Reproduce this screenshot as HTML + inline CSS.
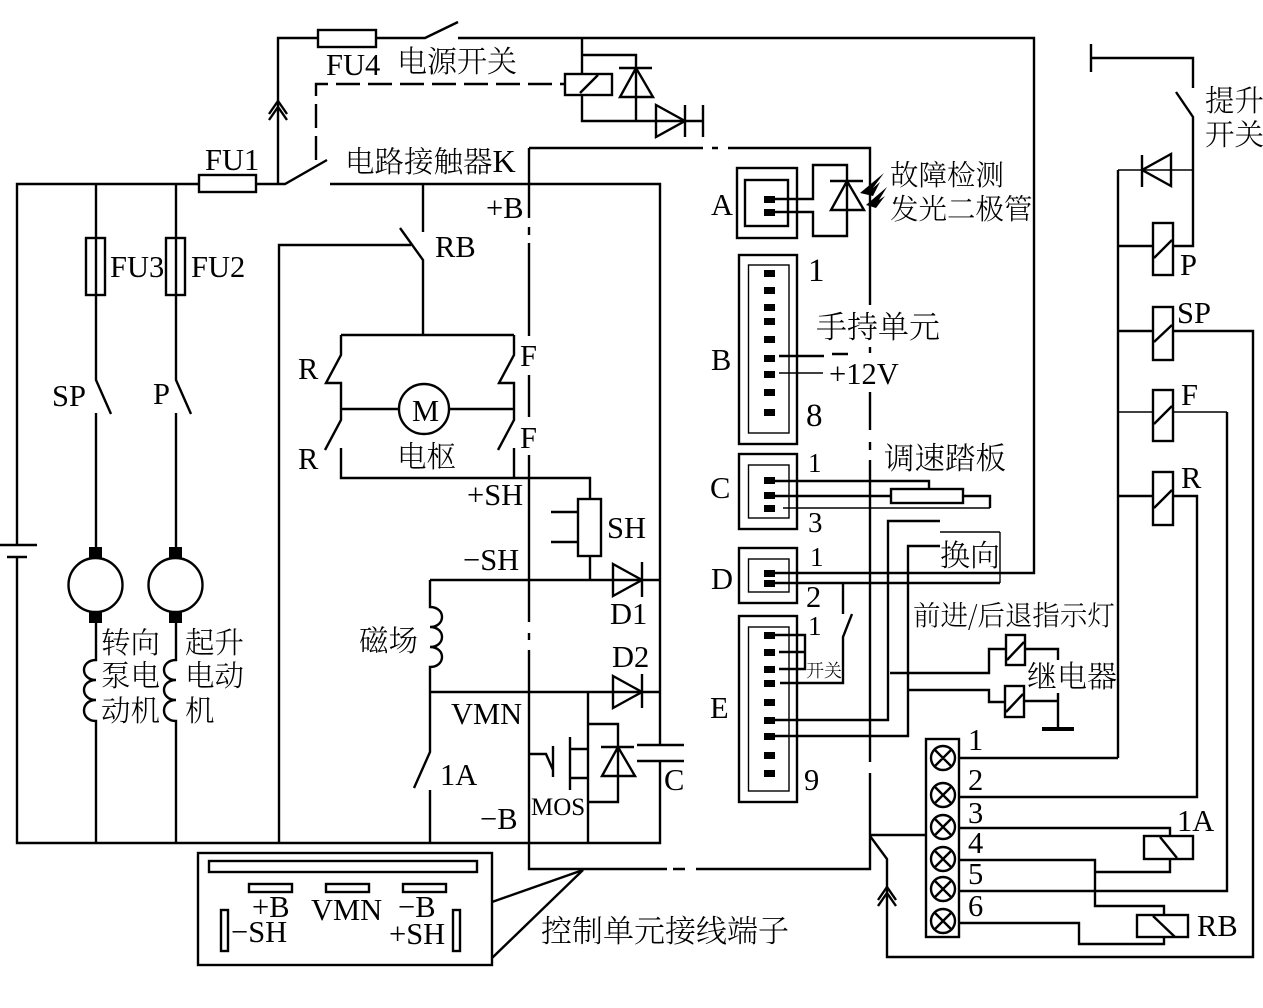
<!DOCTYPE html>
<html><head><meta charset="utf-8">
<style>
html,body{margin:0;padding:0;background:#fff;width:1263px;height:1008px;overflow:hidden}
svg{display:block}
.w{fill:none;stroke:#000;stroke-width:2.4}
.t{fill:none;stroke:#000;stroke-width:1.4}
text{font-family:"Liberation Serif","Noto Serif CJK SC",serif;font-size:30.5px;fill:#000}
.c{font-family:"Noto Serif CJK SC","Liberation Serif",serif;font-weight:300;font-size:29.5px}
</style></head><body>
<svg width="1263" height="1008" viewBox="0 0 1263 1008" xmlns="http://www.w3.org/2000/svg">
<rect width="1263" height="1008" fill="#fff"/>
<g class="w">
<!-- left main -->
<path d="M17 545V184H199M256 184H285L327 160M330 184H660V745M660 761V843H17V557"/>
<path d="M0 545H37M7 557H27"/>
<rect x="199" y="175" width="57" height="17"/>
<path d="M96 184V380L111 414M96 413V547M176 184V380L191 414M176 413V547"/>
<rect x="86" y="238" width="19" height="57"/><rect x="166" y="238" width="19" height="57"/>
<circle cx="95.500" cy="585" r="27"/><circle cx="175.500" cy="585" r="27"/>
<path d="M96 623V660C80 660 80 680 96 680C80 680 80 700 96 700C80 700 80 721 96 721V843"/>
<path d="M176 623V660C160 660 160 680 176 680C160 680 160 700 176 700C160 700 160 721 176 721V843"/>
<!-- top feed -->
<path d="M278 184V38H318M376 38H425L458 22M458 38H1034V573H775"/>
<rect x="318" y="30" width="58" height="17"/>
<path d="M269 114L278 101L287 114M269 120L278 107L287 120" />
<path d="M316 160V84H565" stroke-dasharray="24 8"/>
<!-- relay top -->
<rect x="565" y="74" width="47" height="21"/>
<path d="M580 93L598 75M582 38V74M582 95V121H685M582 55H636V121M620 97H653L636 68ZM619 68H652"/>
<path d="M656 105V137L685 121ZM685 105V137M703 105V137M685 121H703"/>
<!-- box -->
<path d="M529 148V218M529 227V235M529 243V336M529 375V417M529 455V622M529 633V640M529 650V869H667M673 869H685M696 869H870V773M870 762V460M870 450V442M870 430V392M870 353V347M870 305V148H728M718 148H712M703 148H529"/>
<!-- RB & armature -->
<path d="M423 184V232M400 228L423 260V335M279 843V245H411"/>
<path d="M341 335H514M341 335V355L326 383H341V420L325 450M341 448V478H590V499M514 335V355L499 383H514V420L498 450M514 448V478"/>
<circle cx="424" cy="409" r="25"/>
<path d="M341 409H399M449 409H514"/>
<rect x="578" y="499" width="23" height="57"/>
<path d="M551 512H578M551 542H578M590 556V580"/>
<path d="M430 580H660M430 692H660M430 580V607C446 607 446 627 430 627C446 627 446 647 430 647C446 647 446 667 430 667V752L414 788M430 790V843"/>
<path d="M613 564V596L642 580ZM642 562V597M613 676V708L642 692ZM642 674V708"/>
<path d="M637 745H684M637 761H684"/>
<path d="M588 692V843M588 724H618V802H588M602 776H635L618 747ZM601 747H634"/>
<path d="M529 754H546L553 770M553 746V777M570 737V790M570 749H588V749M570 778H588"/>
<!-- bottom box -->
<rect x="198" y="853" width="294" height="112"/>
<rect x="209" y="861" width="268" height="11"/>
<rect x="249" y="884" width="43" height="8"/><rect x="326" y="884" width="43" height="8"/><rect x="403" y="884" width="43" height="8"/>
<rect x="221" y="910" width="7" height="41"/><rect x="453" y="910" width="7" height="41"/>
<path d="M492 902L583 870L492 958"/>
<!-- connectors -->
<rect x="737" y="168" width="60" height="70"/><rect x="745" y="180" width="43" height="46"/>
<path d="M775 199H813V165H847V236H813V212H775M831 210H864L847 181ZM830 181H863"/>
<rect x="739" y="255" width="58" height="189"/><rect x="748.500" y="265" width="40.500" height="168" class="t"/>
<rect x="739" y="454" width="58" height="75"/><rect x="748.500" y="465" width="40.500" height="53" class="t"/>
<rect x="739" y="548" width="58" height="55"/><rect x="748.500" y="559" width="40.500" height="33" class="t"/>
<rect x="739" y="616" width="58" height="186"/><rect x="748.500" y="627" width="40.500" height="164" class="t"/>
<path d="M779 356H824M832 354H848"/>
<path d="M775 481H929V489M775 496H891M963 496H990V508"/>
<rect x="891" y="489" width="72" height="14"/>
<path d="M775 583H1000M843 583V614M852 614L843 637V683H780M775 635H805V669H779M779 652H805"/>
<path d="M775 720H888V521H940M775 736H908V546H940"/>
<path d="M890 673H989V649H1006M908 690H989V702H1005"/>
<rect x="1006" y="635" width="19" height="30"/><rect x="1005" y="686" width="19" height="31"/>
<path d="M1007 660L1024 642M1006 712L1023 694M1025 649H1058V660M1024 701H1058M1058 693V729"/>
<!-- right -->
<path d="M1091 44V72M1091 58H1193V88M1176 92L1193 117V246H1173M1118 758V170M1118 246H1153M1118 331H1153M1118 496H1153M1173 331H1253V957H887V859L870 836M870 835H926"/>
<path d="M1173 496H1197V797H958M1227 412V891H958"/>
<rect x="1153" y="223" width="20" height="52"/><rect x="1153" y="307" width="20" height="53"/><rect x="1153" y="390" width="20" height="51"/><rect x="1153" y="472" width="20" height="53"/>
<path d="M1154 258L1172 240M1154 342L1172 325M1154 424L1172 406M1154 508L1172 490"/>
<path d="M1171 154V186L1142 170ZM1142 155V187"/>
<rect x="926" y="739" width="33" height="198"/>
<path d="M958 758H1118M958 828H1170V836M1170 859V872H1095M958 860H1095V906H1164V915M1164 937V944H1079V923H958"/>
<rect x="1144" y="836" width="49" height="23"/>
<rect x="1137" y="915" width="51" height="22"/>
<path d="M1160 837L1177 858M1153 916L1175 937"/>
<path d="M878 906L887 893L896 906M878 900L887 887L896 900"/>
<g id="x">
<circle cx="943" cy="758" r="12"/><circle cx="943" cy="795" r="12"/><circle cx="943" cy="827" r="12"/><circle cx="943" cy="859" r="12"/><circle cx="943" cy="889" r="12"/><circle cx="943" cy="921" r="12"/>
<path d="M935 750L951 766M951 750L935 766M935 787L951 803M951 787L935 803M935 819L951 835M951 819L935 835M935 851L951 867M951 851L935 867M935 881L951 897M951 881L935 897M935 913L951 929M951 913L935 929"/>
</g>
</g>
<g class="t">
<path d="M783 508H990M779 373H823M1000 532V583M940 532H1000M1118 170H1193M1118 412H1153M1173 412H1227"/>
</g>
<!-- pins -->
<g fill="#000">
<rect x="89" y="547" width="13" height="12"/><rect x="89" y="611" width="13" height="12"/>
<rect x="169" y="547" width="13" height="12"/><rect x="169" y="611" width="13" height="12"/>
<path d="M764 196h11v7h-11zM764 209h11v7h-11z"/>
<path d="M764 270h11v7h-11zM764 287h11v7h-11zM764 304h11v7h-11zM764 318h11v7h-11zM764 336h11v7h-11zM764 355h11v7h-11zM764 371h11v7h-11zM764 389h11v7h-11zM764 409h11v7h-11z"/>
<path d="M764 477h11v7h-11zM764 492h11v7h-11zM764 505h11v7h-11zM764 570h11v7h-11zM764 580h11v7h-11z"/>
<path d="M764 632h11v7h-11zM764 649h11v7h-11zM764 666h11v7h-11zM764 680h11v7h-11zM764 699h11v7h-11zM764 717h11v7h-11zM764 733h11v7h-11zM764 752h11v7h-11zM764 770h11v7h-11z"/>
<rect x="1042" y="727" width="32" height="4"/>
<path d="M860 193L884 173L873 188L880 182L873 196ZM866 205L887 187L879 200L885 196L876 208Z"/>
</g>
<!-- text -->
<text x="205" y="170">FU1</text>
<text x="326" y="75">FU4</text>
<text class="c" x="397" y="72" style="font-size:30px">电源开关</text>
<text class="c" x="345" y="172">电路接触器<tspan style="font-family:'Liberation Serif';font-size:32px">K</tspan></text>
<text x="486" y="218">+B</text>
<text x="435" y="257">RB</text>
<text class="c" x="890" y="185" style="font-size:28.500px">故障检测</text>
<text class="c" x="890" y="219" style="font-size:28.500px">发光二极管</text>
<text x="711" y="215">A</text>
<text x="711" y="370">B</text>
<text x="808" y="281" style="font-size:33px">1</text>
<text x="806" y="426" style="font-size:33px">8</text>
<text class="c" x="816" y="338" style="font-size:31px">手持单元</text>
<text x="829" y="384">+12V</text>
<text x="710" y="498">C</text>
<text x="808" y="472" style="font-size:27px">1</text>
<text x="808" y="532" style="font-size:29px">3</text>
<text class="c" x="884" y="469" style="font-size:30.500px">调速踏板</text>
<text class="c" x="940" y="566" style="font-size:30px">换向</text>
<text x="711" y="589">D</text>
<text x="810" y="566" style="font-size:27px">1</text>
<text x="806" y="607">2</text>
<text x="710" y="718">E</text>
<text x="808" y="635" style="font-size:27px">1</text>
<text x="804" y="790">9</text>
<text class="c" x="806" y="677" style="font-size:18px">开关</text>
<text class="c" x="913" y="625" style="font-size:27.500px">前进/后退指示灯</text>
<text class="c" x="1027" y="687" style="font-size:30px">继电器</text>
<text x="968" y="750">1</text><text x="968" y="790">2</text><text x="968" y="823">3</text><text x="968" y="853">4</text><text x="968" y="884">5</text><text x="968" y="916">6</text>
<text x="1177" y="831">1A</text>
<text x="1197" y="936">RB</text>
<text class="c" x="541" y="942" style="font-size:31px">控制单元接线端子</text>
<text class="c" x="1205" y="111">提升</text>
<text class="c" x="1205" y="145">开关</text>
<text x="1180" y="275">P</text>
<text x="1177" y="323">SP</text>
<text x="1181" y="405">F</text>
<text x="1181" y="488">R</text>
<text x="607" y="538">SH</text>
<text x="467" y="505">+SH</text>
<text x="463" y="570">−SH</text>
<text x="610" y="624">D1</text>
<text x="612" y="667">D2</text>
<text class="c" x="359" y="651">磁场</text>
<text x="451" y="724">VMN</text>
<text x="440" y="785">1A</text>
<text x="480" y="829">−B</text>
<text x="531" y="815" style="font-size:25px">MOS</text>
<text x="664" y="790">C</text>
<text x="298" y="379">R</text><text x="298" y="469">R</text>
<text x="520" y="366">F</text><text x="520" y="448">F</text>
<text class="c" x="397" y="467">电枢</text>
<text x="412" y="421">M</text>
<text x="110" y="277">FU3</text>
<text x="191" y="277">FU2</text>
<text x="52" y="406">SP</text>
<text x="153" y="404">P</text>
<text class="c" x="101" y="653">转向</text>
<text class="c" x="101" y="686">泵电</text>
<text class="c" x="101" y="721">动机</text>
<text class="c" x="185" y="653">起升</text>
<text class="c" x="185" y="686">电动</text>
<text class="c" x="185" y="721">机</text>
<text x="252" y="917">+B</text>
<text x="311" y="920">VMN</text>
<text x="398" y="917">−B</text>
<text x="231" y="942">−SH</text>
<text x="389" y="944">+SH</text>
</svg>
</body></html>
